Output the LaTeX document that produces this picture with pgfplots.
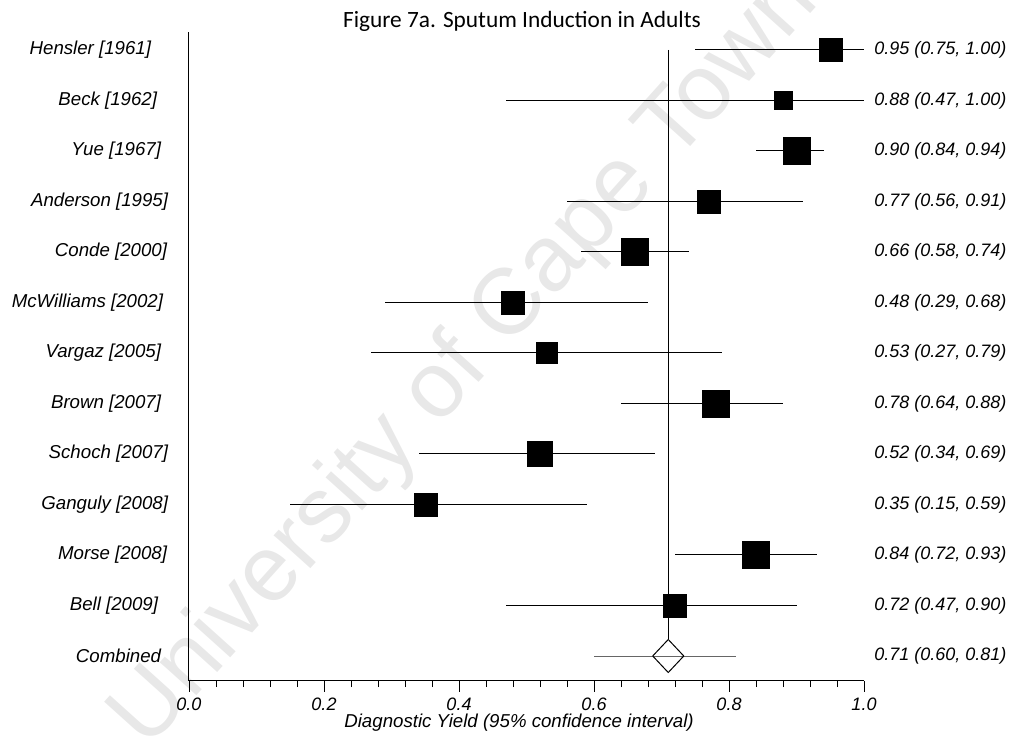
\documentclass[border=0pt]{standalone}
\usepackage{fontspec}
\setmainfont{Liberation Sans}
\newfontfamily\calibri{Carlito}
\usepackage{pgfplots}
\usepackage{pgfplotstable}
\pgfplotsset{compat=1.18}

% y = row (13 = top), est/lo/hi = yield and 95% CI, w = box width in px
\pgfplotstableread{
y  est  lo   hi   w  lab
13 0.95 0.75 1.00 23 {0.95 (0.75, 1.00)}
12 0.88 0.47 1.00 18 {0.88 (0.47, 1.00)}
11 0.90 0.84 0.94 27 {0.90 (0.84, 0.94)}
10 0.77 0.56 0.91 23 {0.77 (0.56, 0.91)}
9  0.66 0.58 0.74 27 {0.66 (0.58, 0.74)}
8  0.48 0.29 0.68 23 {0.48 (0.29, 0.68)}
7  0.53 0.27 0.79 21 {0.53 (0.27, 0.79)}
6  0.78 0.64 0.88 27 {0.78 (0.64, 0.88)}
5  0.52 0.34 0.69 25 {0.52 (0.34, 0.69)}
4  0.35 0.15 0.59 23 {0.35 (0.15, 0.59)}
3  0.84 0.72 0.93 27 {0.84 (0.72, 0.93)}
2  0.72 0.47 0.90 23 {0.72 (0.47, 0.90)}
}\studies

\pgfplotstableread{
y est  lo   hi   lab
1 0.71 0.60 0.81 {0.71 (0.60, 0.81)}
}\pooled

\begin{document}
\begin{tikzpicture}
\useasboundingbox (-141.75pt,-45pt) rectangle (622.5pt,510.75pt);
% watermark, drawn first so it sits behind the chart
\node[rotate=48, text=black!9, font=\fontsize{70}{70}\selectfont] at (207.6pt,240.3pt) {University of Cape Town};
\begin{axis}[
    scale only axis,
    width=506.25pt, height=486.75pt,
    xmin=0, xmax=1,
    ymin=0.505, ymax=13.356,
    clip=false,
    axis x line*=bottom,
    axis y line*=left,
    axis line style={line width=0.75pt},
    xtick={0,0.2,0.4,0.6,0.8,1},
    minor x tick num=4,
    tick align=outside,
    major tick length=8pt,
    minor tick length=4.5pt,
    x tick style={line width=0.6pt, black},
    xticklabel={\itshape\pgfmathprintnumber[fixed,fixed zerofill,precision=1,assume math mode=true]{\tick}},
    xticklabel style={font=\itshape\fontsize{13.5}{16}\selectfont, yshift=-1pt},
    ytick={1,...,13},
    y tick style={draw=none},
    yticklabels={
        {Combined\hspace*{5.25pt}},
        {Bell [2009]\hspace*{7.5pt}},
        {Morse [2008]\hspace*{0.75pt}},
        {Ganguly [2008]},
        {Schoch [2007]},
        {Brown [2007]\hspace*{5.25pt}},
        {Vargaz [2005]\hspace*{5.25pt}},
        {McWilliams [2002]\hspace*{3.75pt}},
        {Conde [2000]\hspace*{0.75pt}},
        {Anderson [1995]},
        {Yue [1967]\hspace*{5.25pt}},
        {Beck [1962]\hspace*{8.25pt}},
        {Hensler [1961]\hspace*{12.75pt}}},
    yticklabel style={font=\itshape\fontsize{14}{16}\selectfont, anchor=east, inner sep=0pt, xshift=-7.5pt},
    xlabel={Diagnostic Yield (95\% confidence interval)},
    xlabel style={font=\itshape\fontsize{14}{16}\selectfont, at={(axis description cs:0.5,0)}, anchor=center, yshift=-31.5pt, xshift=-5.6pt},
    title={Figure 7a. Sputum Induction in Adults},
    title style={font=\calibri\fontsize{17.5}{20}\selectfont, at={(axis description cs:0.5,1)}, anchor=base, yshift=-3pt, xshift=-3.4pt},
]
% pooled estimate line
\addplot[black, line width=0.75pt] coordinates {(0.71,13) (0.71,1.327)};

% study estimates with CIs
\addplot[only marks, mark=square*, black,
    scatter, scatter/use mapped color={draw=black, fill=black},
    mark options={line width=0.2pt},
    visualization depends on={0.375*\thisrow{w} \as \msize},
    scatter/@pre marker code/.append style={/tikz/mark size=\msize},
    error bars/.cd, x dir=both, x explicit, error mark=none,
    error bar style={line width=0.75pt, black}]
    table[x=est, y=y, x error plus expr=\thisrow{hi}-\thisrow{est},
          x error minus expr=\thisrow{est}-\thisrow{lo}] {\studies};

% combined
\addplot[black!60, line width=0.75pt] coordinates {(0.60,1) (0.81,1)};
\addplot[black, line width=0.75pt] coordinates {(0.687,1) (0.71,1.327) (0.733,1) (0.71,0.673)} --cycle;

% right-hand labels
\addplot[draw=none, mark=none, nodes near coords, point meta=explicit symbolic,
    every node near coord/.append style={anchor=west, inner sep=0pt, xshift=7.5pt,
        font=\itshape\fontsize{13.5}{16}\selectfont}]
    table[x expr=1, y=y, meta=lab] {\studies};
\addplot[draw=none, mark=none, nodes near coords, point meta=explicit symbolic,
    every node near coord/.append style={anchor=west, inner sep=0pt, xshift=7.5pt,
        font=\itshape\fontsize{13.5}{16}\selectfont}]
    table[x expr=1, y=y, meta=lab] {\pooled};
\end{axis}
\end{tikzpicture}
\end{document}
